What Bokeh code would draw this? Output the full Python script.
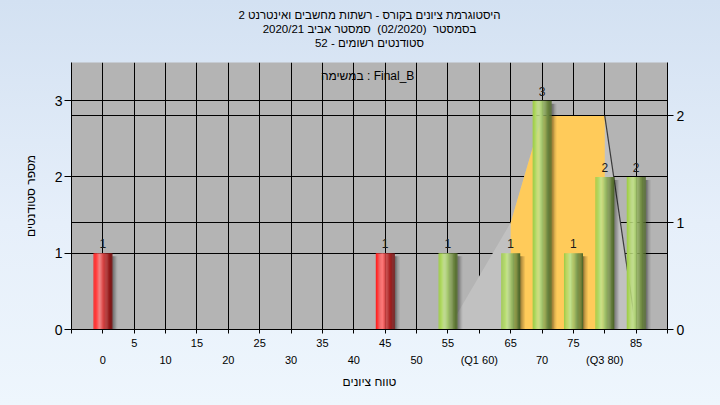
from bokeh.plotting import figure
from bokeh.models import (Range1d, LinearAxis, FixedTicker, Grid, Label, Title,
                          LabelSet, ColumnDataSource)
from bokeh.core.properties import value
from bokeh.embed import file_html
from bokeh.resources import INLINE

# ---- texts ----
title_lines = [
    "היסטוגרמת ציונים בקורס - רשתות מחשבים ואינטרנט 2",
    "בסמסטר  (02/2020)  סמסטר אביב 2020/21",
    "סטודנטים רשומים - 52",
]
task_label = "במשימה : Final_B"
x_title = "טווח ציונים"
y_title = "מספר סטודנטים"

# ---- data ----
scores = [0, 45, 55, 65, 70, 75, 80, 85]
counts = [1, 1, 1, 1, 3, 1, 2, 2]
pass_score = 55
q1, q3 = 60, 80
# grade spread outline (right axis) and the inter-quartile band
spread_x = [55, 65, 70, 80, 85]
spread_y = [0, 1, 2, 2, 0]
iqr_x = [65, 65, 70, 80, 80]
iqr_y = [0, 1, 2, 2, 0]

FONT = "Liberation Sans"
BAR_W = 3.0

p = figure(width=720, height=405, x_range=Range1d(-5, 90), y_range=Range1d(0, 3.5),
           output_backend="svg", toolbar_location=None,
           min_border_left=71, min_border_right=53, min_border_top=62, min_border_bottom=76,
           background_fill_color="#b4b4b4", border_fill_alpha=0, outline_line_color=None)
p.extra_y_ranges = {"right": Range1d(0, 2.5)}
p.styles = {"background": "linear-gradient(180deg, #d3e1f2 0%, #e6effa 55%, #eef6fd 100%)"}


def keep_spaces(s):
    # SVG collapses runs of blanks; keep the double gaps visible
    return s.replace("  ", " \u00a0")


# ---- three centred title lines (p.title is the top one) ----
title_style = dict(align="center", text_font=FONT, text_font_size="11.5px",
                   text_font_style="normal", text_color="#000000")
p.title.text = keep_spaces(title_lines[0])
for k, v in title_style.items():
    setattr(p.title, k, v)
p.title.standoff = 0
# blank gap between the title block and the frame
p.add_layout(Title(text=" ", standoff=11, text_font_size="1px"), "above")
p.add_layout(Title(text=keep_spaces(title_lines[2]), standoff=0, **title_style), "above")
p.add_layout(Title(text=keep_spaces(title_lines[1]), standoff=0, **title_style), "above")

# ---- axes ----
x_ticks = list(range(-5, 91, 5))
xa = p.xaxis[0]
xa.ticker = FixedTicker(ticks=x_ticks)
xa.major_label_overrides = {t: (str(t) if t % 10 == 5 and 0 < t < 90 else "") for t in x_ticks}
xa.minor_tick_line_color = None
xa.major_tick_out = 4
xa.major_tick_in = 0
xa.major_label_standoff = 5
xa.axis_line_color = "black"
xa.major_label_text_font = FONT
xa.major_label_text_font_size = "11px"
xa.major_label_text_color = "#000000"

xb = LinearAxis(ticker=FixedTicker(ticks=list(range(0, 81, 10))),
                major_label_overrides={q1: f"(Q1 {q1})", q3: f"(Q3 {q3})"},
                axis_line_color=None, major_tick_line_color=None, minor_tick_line_color=None,
                major_tick_out=0, major_tick_in=0, major_label_standoff=4,
                major_label_text_font=FONT, major_label_text_font_size="11px",
                major_label_text_color="#000000",
                axis_label=x_title, axis_label_text_font=FONT,
                axis_label_text_font_size="12px", axis_label_text_font_style="normal",
                axis_label_text_color="#000000", axis_label_standoff=6)
p.add_layout(xb, "below")

ya = p.yaxis[0]
ya.ticker = FixedTicker(ticks=[0, 1, 2, 3])
ya.minor_tick_line_color = None
ya.major_tick_out = 7
ya.major_tick_in = 0
ya.major_label_standoff = 2
ya.major_label_text_font = FONT
ya.major_label_text_font_size = "14px"
ya.major_label_text_color = "#000000"
ya.axis_label = y_title
ya.axis_label_text_font = FONT
ya.axis_label_text_font_size = "12px"
ya.axis_label_text_font_style = "normal"
ya.axis_label_text_color = "#000000"
ya.axis_label_standoff = 14

yr = LinearAxis(y_range_name="right", ticker=FixedTicker(ticks=[0, 1, 2]),
                minor_tick_line_color=None, major_tick_out=6, major_tick_in=0,
                major_label_standoff=3, major_label_text_font=FONT,
                major_label_text_font_size="14px", major_label_text_color="#000000")
p.add_layout(yr, "right")

# ---- grid ----
p.xgrid.ticker = FixedTicker(ticks=x_ticks)
p.xgrid.grid_line_color = "black"
p.ygrid.ticker = FixedTicker(ticks=[1, 2, 3])
p.ygrid.grid_line_color = "black"
p.add_layout(Grid(dimension=1, ticker=FixedTicker(ticks=[1, 2]), y_range_name="right",
                  grid_line_color="black"))

# ---- spread / quartile shapes ----
p.patch(spread_x, spread_y, fill_color="#c1c1c1", line_color=None, y_range_name="right")
p.patch(iqr_x, iqr_y, fill_color="#ffcb5a", line_color=None, y_range_name="right")
p.line(spread_x[-2:], spread_y[-2:], line_color="#3a3a3a", line_width=1.2, y_range_name="right")


# ---- cylinder bars ----
def hex2rgb(h):
    h = h.lstrip("#")
    return tuple(int(h[i:i + 2], 16) for i in (0, 2, 4))


def shade(stops, f):
    for (f0, c0), (f1, c1) in zip(stops, stops[1:]):
        if f0 <= f <= f1:
            a, b = hex2rgb(c0), hex2rgb(c1)
            k = (f - f0) / (f1 - f0) if f1 > f0 else 0
            return "#%02x%02x%02x" % tuple(round(a[i] + (b[i] - a[i]) * k) for i in range(3))
    return stops[-1][1]


red_stops = [(0.0, "#ff1c1c"), (0.18, "#ff4a4a"), (0.34, "#ff7a7a"), (0.52, "#d44444"),
             (0.75, "#a82222"), (1.0, "#6c1010")]
green_stops = [(0.0, "#9ccb44"), (0.16, "#b2d966"), (0.32, "#c6e48e"), (0.5, "#a2c46c"),
               (0.75, "#768f48"), (1.0, "#4c6428")]

N = 16
sl, sr, st, sb, sc = [], [], [], [], []
hl, hr, ht, ha = [], [], [], []
for s, c in zip(scores, counts):
    stops = red_stops if s < pass_score else green_stops
    x0 = s - BAR_W / 2
    for i in range(N):
        f = (i + 0.5) / N
        sl.append(x0 + BAR_W * i / N)
        sr.append(x0 + BAR_W * (i + 1) / N + 0.03)
        st.append(c)
        sb.append(0)
        sc.append(shade(stops, f))
    for k, a in enumerate([0.42, 0.28, 0.16, 0.07]):
        hl.append(s + BAR_W / 2 + 0.2 * k)
        hr.append(s + BAR_W / 2 + 0.2 * (k + 1))
        ht.append(c - 0.04)
        ha.append(a)

p.quad(left=hl, right=hr, top=ht, bottom=[0] * len(hl), fill_color="black", fill_alpha=ha,
       line_color=None)
p.quad(left=sl, right=sr, top=st, bottom=sb, fill_color=sc, line_color=None)

src = ColumnDataSource(dict(x=scores, y=counts, t=[str(c) for c in counts]))
p.add_layout(LabelSet(x="x", y="y", text="t", source=src, text_align="center",
                      text_baseline="bottom", y_offset=5, text_font=value(FONT),
                      text_font_size=value("12px"), text_color="#1a1a1a"))

p.add_layout(Label(x=42.2, y=3.32, text=task_label, text_align="center",
                   text_baseline="middle", text_font=FONT, text_font_size="12px",
                   text_color="#000000"))

open("out.html", "w").write(file_html(p, INLINE))
